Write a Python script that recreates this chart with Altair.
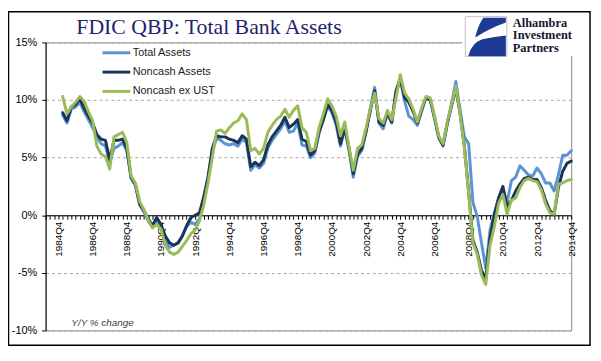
import altair as alt
import pandas as pd

# Y/Y % change, quarterly, 1985Q1 .. 2014Q4
total_assets = [
    8.7, 8.0, 9.2, 9.4,    9.8, 9.0, 8.3, 7.6,    6.8, 6.2, 6.0, 4.6,    5.8, 6.0, 6.3, 5.6,
    3.2, 2.6, 0.9, 0.3,    -0.5, -1.0, -0.5, -0.9, -2.3, -2.8, -2.6, -2.4, -1.8, -1.0, -0.6, -0.8,
    -0.3, 1.5, 3.2, 5.5,   6.7, 6.5, 6.2, 6.1,    6.2, 6.0, 6.6, 6.3,    3.9, 4.4, 4.1, 4.5,
    5.8, 6.5, 7.0, 7.5,    8.2, 7.2, 7.3, 8.0,    6.1, 6.0, 5.0, 5.4,    7.1, 8.3, 9.5, 8.9,
    7.8, 6.0, 7.5, 5.6,    3.3, 5.1, 5.6, 7.3,    9.3, 11.1, 8.0, 7.5,   8.8, 8.0, 10.6, 11.8,
    9.9, 8.6, 8.3, 7.8,    9.0, 10.2, 10.1, 8.4,  6.7, 6.0, 7.9, 9.7,    11.6, 9.1, 6.8, 6.2,
    1.1, -0.1, -2.4, -4.6, -1.3, 0.2, 1.4, 2.3,   1.1, 3.0, 3.3, 4.3,    3.9, 3.5, 3.4, 4.1,
    3.6, 2.8, 2.8, 2.1,    3.5, 5.2, 5.2, 5.6,
]
noncash_assets = [
    8.9, 8.2, 9.4, 9.6,    10.1, 9.3, 8.6, 8.0,   7.0, 6.6, 6.5, 4.8,    6.5, 6.5, 6.6, 5.8,
    3.3, 2.7, 1.0, 0.4,    -0.3, -0.9, -0.2, -0.8, -1.8, -2.4, -2.6, -2.4, -1.8, -0.9, -0.2, 0.0,
    0.2, 1.6, 3.3, 5.8,    6.9, 6.8, 6.8, 6.6,    6.5, 6.3, 6.9, 6.6,    4.2, 4.6, 4.3, 4.8,
    6.1, 6.8, 7.3, 7.8,    8.5, 7.6, 7.9, 8.3,    6.6, 6.4, 5.2, 5.6,    7.3, 8.3, 9.6, 9.1,
    8.1, 6.2, 7.6, 5.8,    3.6, 5.3, 5.8, 7.3,    9.1, 10.8, 8.1, 7.8,   8.9, 8.1, 10.8, 11.9,
    10.2, 9.8, 9.0, 8.0,   9.2, 10.2, 10.0, 8.5,  6.8, 6.1, 8.0, 9.5,    11.0, 8.8, 6.0, 2.0,
    -2.2, -3.2, -4.8, -5.5, -2.0, 0.0, 1.5, 2.5,  0.7, 1.3, 2.1, 2.7,    3.2, 3.3, 3.1, 3.1,
    2.4, 1.3, 0.4, 0.1,    2.4, 3.8, 4.5, 4.7,
]
noncash_ex_ust = [
    10.3, 8.8, 9.4, 9.8,   10.3, 9.9, 9.0, 8.2,   6.0, 5.3, 5.1, 4.0,    6.8, 7.0, 7.2, 6.3,
    3.4, 2.8, 1.2, 0.5,    -0.4, -1.1, -0.8, -1.2, -2.6, -3.2, -3.4, -3.2, -2.7, -2.2, -1.6, -1.3,
    -0.5, 0.9, 2.8, 5.0,   7.3, 7.4, 7.1, 7.6,    8.0, 8.2, 8.8, 8.3,    5.6, 5.8, 5.3, 5.8,
    7.2, 7.8, 8.3, 8.6,    9.2, 8.5, 9.1, 9.5,    7.6, 7.2, 5.6, 5.8,    7.6, 8.8, 10.1, 9.5,
    8.6, 6.9, 8.1, 5.9,    3.9, 5.8, 6.1, 7.6,    9.3, 10.6, 8.4, 8.0,   9.1, 8.3, 10.2, 12.2,
    10.6, 10.1, 9.2, 8.1,  9.3, 10.3, 10.2, 8.6,  6.9, 6.2, 8.1, 9.6,    11.2, 8.8, 5.9, 1.9,
    -2.4, -3.4, -5.2, -6.0, -2.6, -1.0, 1.0, 1.8, 0.1, 1.3, 1.5, 2.4,    3.0, 3.2, 3.0, 2.9,
    2.2, 1.0, 0.2, 0.1,    2.7, 2.8, 3.0, 3.1,
]
series_names = ["Total Assets", "Noncash Assets", "Noncash ex UST"]
series_colors = ["#5b93d3", "#1b3558", "#9bbb59"]

# category axis 1984Q1 .. 2014Q4; Y/Y values start at 1985Q1
quarters = [f"{1984 + k // 4}Q{k % 4 + 1}" for k in range(124)]
tick_labels = ["1984Q4", "1986Q4", "1988Q4", "1990Q4", "1992Q4", "1994Q4", "1996Q4", "1998Q4",
               "2000Q4", "2002Q4", "2004Q4", "2006Q4", "2008Q4", "2010Q4", "2012Q4", "2014Q4"]
first_idx = 4
assert len(total_assets) == len(noncash_assets) == len(noncash_ex_ust) == 120

rows = []
for name, vals in zip(series_names, [total_assets, noncash_assets, noncash_ex_ust]):
    for j, v in enumerate(vals):
        rows.append({"q": j + first_idx, "quarter": quarters[j + first_idx], "series": name, "value": v})
df = pd.DataFrame(rows)

label_arr = [q if q in tick_labels else "" for q in quarters]
label_expr = "[" + ",".join(f"'{s}'" for s in label_arr) + "][datum.value]"

W, H = 531, 291
FONT = "Liberation Sans"

color = alt.Color(
    "series:N",
    scale=alt.Scale(domain=series_names, range=series_colors),
    legend=alt.Legend(
        orient="none", legendX=63, legendY=2, title=None, symbolType="M-2,0L2,0",
        symbolSize=196, symbolStrokeWidth=3, rowPadding=4.5, padding=0, labelOffset=8,
        labelFont=FONT, labelFontSize=11, labelColor="#222222",
    ),
)
x = alt.X(
    "q:Q",
    scale=alt.Scale(domain=[0, 123], nice=False, zero=False),
    axis=alt.Axis(
        title=None, values=list(range(124)), labelExpr=label_expr, labelOverlap=False,
        labelAngle=270, labelAlign="right", labelBaseline="middle", labelPadding=2,
        labelFont=FONT, labelFontSize=10, labelColor="#000000", tickSize=4,
        tickColor="#000000", domainColor="#000000", grid=False, offset=-116.4,
        labelBound=False, labelFlush=False,
    ),
)
y = alt.Y(
    "value:Q",
    scale=alt.Scale(domain=[-10, 15], nice=False),
    axis=alt.Axis(
        title=None, values=[-10, -5, 0, 5, 10, 15], labelExpr="datum.value + '%'",
        labelFont=FONT, labelFontSize=11, labelColor="#000000", labelPadding=5,
        tickSize=4, tickColor="#000000", domainColor="#000000",
        grid=True, gridColor="#a6a6a6", gridDash=[3, 3], gridWidth=1,
    ),
)

base = alt.Chart(df)
lines = [
    base.transform_filter(alt.datum.series == name)
    .mark_line(strokeWidth=3, strokeJoin="round", strokeCap="round")
    .encode(x=x, y=y, color=color)
    for name in series_names
]

one = pd.DataFrame({"a": [0]})
frame = alt.Chart(one).mark_rect(fill=None, stroke="#000000", strokeWidth=1.5).encode(
    x=alt.value(-37.5), x2=alt.value(550), y=alt.value(-31), y2=alt.value(306))
cover = alt.Chart(one).mark_rect(fill="#ffffff", stroke=None).encode(
    x=alt.value(421), x2=alt.value(541), y=alt.value(-8), y2=alt.value(14))
logo_box = alt.Chart(one).mark_rect(fill="#ffffff", stroke="#c0c0c0", strokeWidth=1).encode(
    x=alt.value(424), x2=alt.value(466), y=alt.value(-26), y2=alt.value(14))
logo_path = ("M-0.14,-0.9 L0.95,-0.9 L0.95,-0.67 Q0.14,-0.38 -0.52,0.05 Q-0.43,-0.43 -0.14,-0.9 Z "
             "M-0.86,0.95 Q-0.71,0.33 -0.19,0.14 Q0.43,0 0.95,-0.05 L0.95,0.95 Z")
logo_shape = alt.Chart(one).mark_point(
    shape=logo_path, size=1764, filled=True, color="#1f3a93", opacity=1, strokeWidth=0
).encode(x=alt.value(445), y=alt.value(-6))
logo_texts = [
    alt.Chart(one).mark_text(text=t, align="left", baseline="alphabetic", font="Liberation Serif",
                             fontSize=12.5, fontWeight="bold", color="#14142e").encode(
        x=alt.value(472), y=alt.value(yy))
    for t, yy in [("Alhambra", -16), ("Investment", -3.25), ("Partners", 9.5)]
]
title = alt.Chart(one).mark_text(
    text="FDIC QBP: Total Bank Assets", align="left", baseline="alphabetic",
    font="Liberation Serif", fontSize=22, color="#1f1f6e"
).encode(x=alt.value(31), y=alt.value(-8))
note = alt.Chart(one).mark_text(
    text="Y/Y % change", align="left", baseline="alphabetic", font=FONT, fontSize=10,
    fontStyle="italic", color="#404040"
).encode(x=alt.value(26), y=alt.value(286.7))

chart = alt.layer(frame, cover, logo_box, logo_shape, *logo_texts, title, note, *lines).properties(
    width=W, height=H,
    autosize=alt.AutoSizeParams(type="none"),
    padding={"left": 38, "top": 33, "right": 22, "bottom": 18},
).configure_view(stroke="#868686", strokeWidth=1)

chart.save("out.html", embed_options={"renderer": "svg", "actions": False})
